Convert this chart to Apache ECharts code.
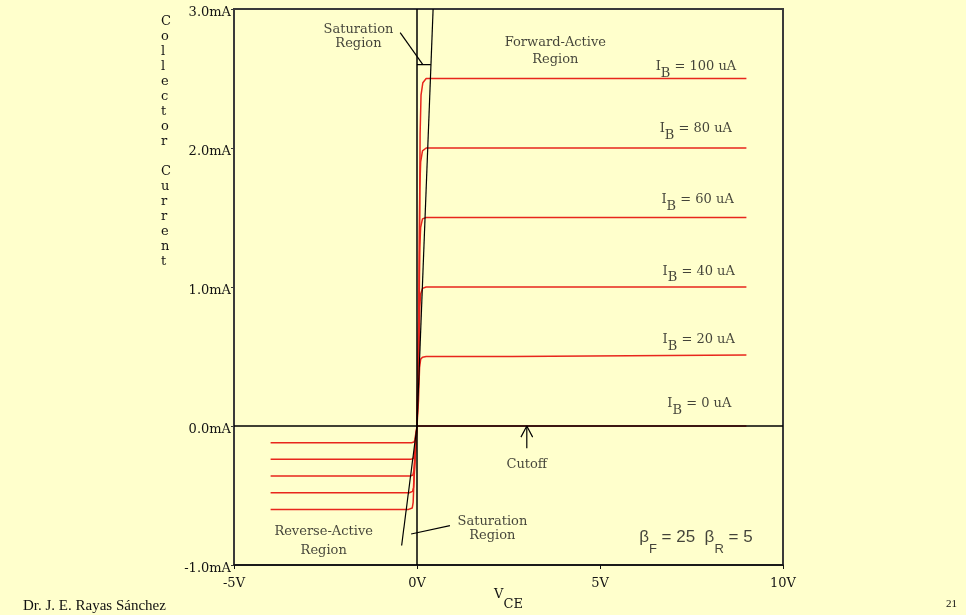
<!DOCTYPE html>
<html>
<head>
<meta charset="utf-8">
<script src="https://cdn.jsdelivr.net/npm/echarts@6/dist/echarts.min.js"></script>
<style>
html, body { margin: 0; background: #FFFFCC; }
#chart { width: 966px; height: 615px; }
</style>
</head>
<body>
<div id="chart"></div>
<script>
// axis ticks
var xTicks = [-5, 0, 5, 10];
var yTicks = [-1, 0, 1, 2, 3];

// I_C (mA) vs V_CE (V), one curve per base current: reverse part, origin, forward part
var ib0 = [[0, 0], [9, 0]];
var ib20 = [[-4, -0.12], [-0.15, -0.12], [-0.08, -0.115], [-0.06, -0.1], [0, 0],
  [0.04, 0.18], [0.07, 0.42], [0.1, 0.48], [0.15, 0.495], [0.25, 0.5], [2.6, 0.5], [2.62, 0.51], [9, 0.51]];
var ib40 = [[-4, -0.24], [-0.17, -0.24], [-0.1, -0.233], [-0.075, -0.21], [-0.04, -0.12], [0, 0],
  [0.05, 0.4], [0.075, 0.85], [0.1, 0.95], [0.15, 0.99], [0.25, 1.0], [9, 1.0]];
var ib60 = [[-4, -0.36], [-0.19, -0.36], [-0.11, -0.352], [-0.085, -0.32], [-0.06, -0.22], [0, 0],
  [0.05, 0.6], [0.075, 1.28], [0.1, 1.43], [0.15, 1.49], [0.25, 1.5], [9, 1.5]];
var ib80 = [[-4, -0.48], [-0.21, -0.48], [-0.12, -0.47], [-0.095, -0.44], [-0.07, -0.3], [0, 0],
  [0.05, 0.8], [0.075, 1.7], [0.1, 1.9], [0.15, 1.98], [0.25, 2.0], [9, 2.0]];
var ib100 = [[-4, -0.6], [-0.23, -0.6], [-0.13, -0.59], [-0.105, -0.55], [-0.08, -0.38], [0, 0],
  [0.06, 1.0], [0.085, 2.1], [0.11, 2.38], [0.16, 2.47], [0.25, 2.5], [9, 2.5]];

var ibValues = ['0', '20', '40', '60', '80', '100'];
var ibLabelAt = [[6.84, 0.158], [6.71, 0.619], [6.71, 1.111], [6.68, 1.626], [6.63, 2.137], [6.52, 2.583]];

// region boundaries and pointers
var satUpper = [[0, 0], [0.44, 3.0]];
var satLower = [[0, 0], [-0.42, -0.86]];
var satMark = [[0, 2.6], [0.38, 2.6]];
var satPointerTop = [[-0.46, 2.83], [0.16, 2.6]];
var satPointerBottom = [[-0.16, -0.777], [0.9, -0.717]];
var cutoffShaft = [[3, -0.16], [3, 0]];
var cutoffHead = [[2.84, -0.08], [3, 0], [3.16, -0.08]];
var zeroV = [[0, -1], [0, 3]];
var zeroI = [[-5, 0], [10, 0]];

var regionText = ['Saturation\nRegion', 'Forward-Active\nRegion', 'Cutoff', 'Saturation\nRegion', 'Reverse-Active\nRegion'];
var regionAt = [[-1.6, 2.8], [3.78, 2.7], [3.0, -0.28], [2.06, -0.736], [-2.55, -0.827]];
var regionLineHeight = [14.5, 17, 14, 14, 19];

var betaAt = [6.07, -0.802];

var RED = '#e8261c';
var SERIF = 'DejaVu Serif';
var INK = '#141414';

function curve(data) {
  return {
    type: 'line', data: data, showSymbol: false, silent: true, z: 2,
    lineStyle: { color: RED, width: 1.5 }
  };
}

function stroke(data, w) {
  return {
    type: 'line', data: data, showSymbol: false, silent: true, z: 3,
    lineStyle: { color: '#000', width: w || 1.2 }
  };
}

function txt(size, family, pad) {
  var s = { fontSize: size, fontFamily: family, color: INK, textBorderWidth: 0 };
  if (pad) s.padding = [pad, 0, 0, 0];
  return s;
}

var chart = echarts.init(document.getElementById('chart'));
chart.setOption({
  animation: false,
  backgroundColor: '#FFFFCC',
  grid: {
    left: 234, top: 9, width: 549, height: 556, outerBoundsMode: 'none',
    show: true, borderColor: '#3a3a3a', borderWidth: 2, backgroundColor: 'transparent'
  },
  xAxis: {
    type: 'value', min: xTicks[0], max: xTicks[xTicks.length - 1], interval: 5,
    axisLine: { onZero: false, lineStyle: { color: '#111', width: 1.5 } },
    axisTick: { show: true, length: 4, lineStyle: { color: '#111' } },
    axisLabel: { margin: 12, color: INK, fontFamily: SERIF, fontSize: 13, formatter: '{value}V' },
    splitLine: { show: false },
    name: '{v|V}{s|CE}', nameLocation: 'middle', nameGap: 13, nameMoveOverlap: false,
    nameTextStyle: {
      color: INK, fontFamily: SERIF,
      rich: { v: txt(13, SERIF), s: txt(13, SERIF, 20) }
    }
  },
  yAxis: {
    type: 'value', min: yTicks[0], max: yTicks[yTicks.length - 1], interval: 1,
    axisLine: { onZero: false, lineStyle: { color: '#3a3a3a', width: 2 } },
    axisTick: { show: true, length: 3, lineStyle: { color: '#3a3a3a' } },
    axisLabel: {
      margin: 3, color: INK,
      formatter: function (v) { return '{a|' + v.toFixed(1) + 'mA}'; },
      rich: { a: txt(13, SERIF, 8) }
    },
    splitLine: { show: false }
  },
  graphic: [
    {
      type: 'text', left: 161, top: 14,
      style: {
        text: 'C\no\nl\nl\ne\nc\nt\no\nr\n \nC\nu\nr\nr\ne\nn\nt',
        fill: INK, font: '13px "DejaVu Serif"', lineHeight: 15, align: 'center', width: 14
      }
    },
    {
      type: 'text', left: 23, top: 599,
      style: { text: 'Dr. J. E. Rayas Sánchez', fill: '#111', font: '15px "Liberation Serif"' }
    },
    {
      type: 'text', left: 946, top: 599,
      style: { text: '21', fill: '#111', font: '11px "Liberation Serif"' }
    }
  ],
  series: [
    curve(ib0), curve(ib20), curve(ib40), curve(ib60), curve(ib80), curve(ib100),
    stroke(zeroV, 1.5), stroke(zeroI, 1.5),
    stroke(satUpper), stroke(satLower), stroke(satMark),
    stroke(satPointerTop), stroke(satPointerBottom),
    stroke(cutoffShaft), stroke(cutoffHead),
    {
      type: 'scatter', symbolSize: 0, silent: true, z: 4,
      data: ibLabelAt.map(function (p, i) {
        return { value: p, label: { formatter: '{i|I}{s|B}{i| = ' + ibValues[i] + ' uA}' } };
      }),
      label: {
        show: true, position: 'right', distance: 0,
        rich: { i: txt(13, SERIF), s: txt(13, SERIF, 13) }
      }
    },
    {
      type: 'scatter', symbolSize: 0, silent: true, z: 4,
      data: regionAt.map(function (p, i) {
        return { value: p, label: { formatter: regionText[i], lineHeight: regionLineHeight[i] } };
      }),
      label: {
        show: true, position: 'inside', align: 'center', color: INK, textBorderWidth: 0,
        fontFamily: SERIF, fontSize: 13
      }
    },
    {
      type: 'scatter', symbolSize: 0, silent: true, z: 4,
      data: [{ value: betaAt }],
      label: {
        show: true, position: 'right', distance: 0,
        formatter: '{b|β}{s|F}{b| = 25  β}{s|R}{b| = 5}',
        rich: { b: txt(17, 'Liberation Sans'), s: txt(13, 'Liberation Sans', 23) }
      }
    }
  ]
});
</script>
</body>
</html>
